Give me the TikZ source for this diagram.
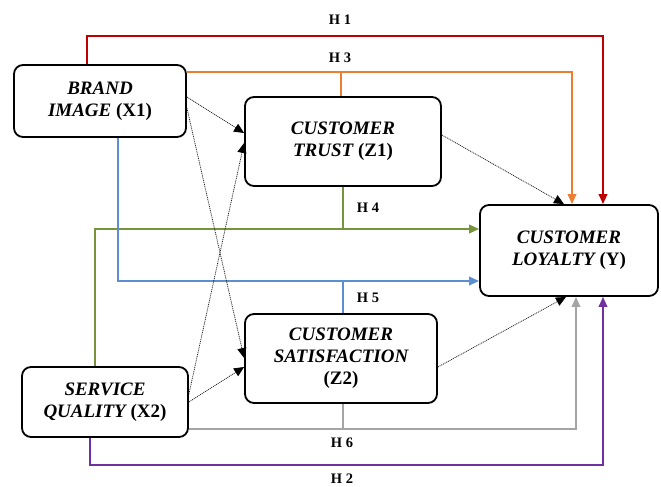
\documentclass[tikz,border=0pt]{standalone}
\usepackage{fontspec}
\setmainfont{Liberation Serif}
\usetikzlibrary{arrows.meta}
\definecolor{hred}{HTML}{C00000}
\definecolor{horange}{HTML}{ED7D31}
\definecolor{hgreen}{HTML}{77933C}
\definecolor{hblue}{HTML}{5B8FCF}
\definecolor{hgray}{HTML}{A5A5A5}
\definecolor{hpurple}{HTML}{7030A0}
\tikzset{
  var/.style={draw=black, line width=1.8pt, rounded corners=9pt, align=center,
    inner sep=2pt, font=\fontsize{19}{22}\selectfont\bfseries\itshape},
  hyp/.style={line width=2pt, -{Triangle[length=10pt,width=8.5pt]}},
  link/.style={line width=2pt},
  med/.style={black!85, line width=0.8pt, dash pattern=on 1pt off 0.9pt,
    -{Triangle[length=10pt,width=9pt,fill=black,color=black]}},
  hlabel/.style={font=\fontsize{14.5}{16}\selectfont\bfseries, inner sep=0pt}
}
\newcommand{\up}[1]{{\upshape #1}}
\begin{document}
\begin{tikzpicture}[x=1pt,y=-1pt]
\useasboundingbox (0,0) rectangle (661,487);

% variables
\node[var, minimum width=172pt, minimum height=72pt] (X1) at (100,101) {BRAND\\IMAGE \up{(X1)}};
\node[var, minimum width=196pt, minimum height=89pt] (Z1) at (343,141.5) {CUSTOMER\\TRUST \up{(Z1)}};
\node[var, minimum width=178pt, minimum height=91pt] (Y) at (569,250.5) {CUSTOMER\\LOYALTY \up{(Y)}};
\node[var, minimum width=192pt, minimum height=89pt] (Z2) at (341,358.5) {CUSTOMER\\SATISFACTION\\\up{(Z2)}};
\node[var, minimum width=166pt, minimum height=70pt] (X2) at (105,402) {SERVICE\\QUALITY \up{(X2)}};

% H1: brand image -> loyalty
\draw[hyp, hred] ([xshift=-13pt]X1.north) -- ++(0,-28) -| ([xshift=34pt]Y.north);
% H3: brand image -> loyalty through trust
\draw[hyp, horange] ([yshift=29pt]X1.east) -| ([xshift=3pt]Y.north);
\draw[link, horange] ([xshift=-2pt]Z1.north) -- ++(0,-25);
% H4: service quality -> loyalty through trust
\draw[hyp, hgreen] ([xshift=-10pt]X2.north) |- ([yshift=21.5pt]Y.west);
\draw[link, hgreen] (Z1.south) -- ++(0,43);
% H5: brand image -> loyalty through satisfaction
\draw[hyp, hblue] ([xshift=18pt]X1.south) |- ([yshift=-30.5pt]Y.west);
\draw[link, hblue] ([xshift=2pt]Z2.north) -- ++(0,-33);
% H6: service quality -> loyalty through satisfaction
\draw[hyp, hgray] ([yshift=-27pt]X2.east) -| ([xshift=7pt]Y.south);
\draw[link, hgray] ([xshift=2pt]Z2.south) -- ++(0,26);
% H2: service quality -> loyalty
\draw[hyp, hpurple] ([xshift=-15pt]X2.south) -- ++(0,27) -| ([xshift=34pt]Y.south);

% direct paths to the mediators
\draw[med] ([yshift=4pt]X1.east) -- ([yshift=8.5pt]Z1.west);
\draw[med] ([yshift=-7pt]X1.east) -- ([yshift=0.5pt]Z2.west);
\draw[med] ([yshift=8pt]X2.east) -- ([yshift=-1.5pt]Z1.west);
\draw[med] (X2.east) -- ([yshift=-8.5pt]Z2.west);
\draw[med] ([yshift=6.5pt]Z1.east) -- ([xshift=-5pt]Y.north);
\draw[med] ([yshift=-8.5pt]Z2.east) -- ([xshift=-3pt]Y.south);

% hypothesis labels
\node[hlabel] (l1) at (340,20) {H 1};
\node[hlabel] (l3) at (340,58) {H 3};
\node[hlabel] (l4) at (368,208) {H 4};
\node[hlabel] (l5) at (368,298) {H 5};
\node[hlabel] (l6) at (342,443) {H 6};
\node[hlabel] (l2) at (342,479) {H 2};
\end{tikzpicture}
\end{document}
